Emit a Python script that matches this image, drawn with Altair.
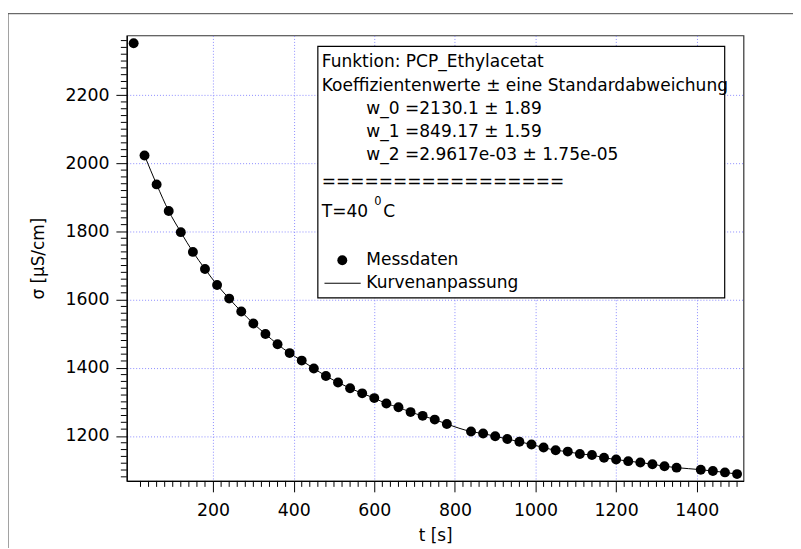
import altair as alt
import pandas as pd

# ---- data ----
t_s = [3, 30, 60, 90, 120, 150, 180, 210, 240, 270, 300, 330, 360, 390, 420, 450,
       480, 510, 540, 570, 600, 630, 660, 690, 720, 750, 780, 840, 870, 900, 930,
       960, 990, 1020, 1050, 1080, 1110, 1140, 1170, 1200, 1230, 1260, 1290, 1320,
       1350, 1410, 1440, 1470, 1500]
sigma = [2352, 2023, 1938, 1860, 1798, 1740, 1690, 1643, 1603, 1565, 1530, 1499,
         1469, 1443, 1421, 1398, 1376, 1357, 1340, 1325, 1311, 1295, 1284, 1270,
         1259, 1248, 1235, 1213, 1207, 1199, 1191, 1183, 1175, 1166, 1158, 1154,
         1147, 1144, 1136, 1131, 1126, 1122, 1117, 1111, 1107, 1101, 1097, 1093, 1088]

x_major = [200, 400, 600, 800, 1000, 1200, 1400]
y_major = [1200, 1400, 1600, 1800, 2000, 2200]
x_minor = [v for v in range(20, 1501, 20) if v % 200 != 0]
y_minor = [v for v in range(1080, 2375, 20) if v % 200 != 0]

box_lines = [
    "Funktion: PCP_Ethylacetat",
    "Koeffizientenwerte ± eine Standardabweichung",
    "w_0 =2130.1 ± 1.89",
    "w_1 =849.17 ± 1.59",
    "w_2 =2.9617e-03 ± 1.75e-05",
    "=================",
]
legend_labels = ["Messdaten", "Kurvenanpassung"]

df = pd.DataFrame({"t": t_s, "sigma": sigma})
df_fit = df.iloc[1:]
one = pd.DataFrame({"k": [0]})
dfx_minor = pd.DataFrame({"t": x_minor})
dfy_minor = pd.DataFrame({"sigma": y_minor})

FONT = "DejaVu Sans"
TXT = 17.2
W, H = 623, 450

xscale = alt.Scale(domain=[-14, 1516], nice=False, zero=False)
yscale = alt.Scale(domain=[1068, 2375], nice=False, zero=False)

xaxis = alt.Axis(
    values=x_major, tickCount=100, title="t [s]", grid=True,
    labelOverlap=False, labelFlush=False, tickSize=11,
    labelPadding=10, titlePadding=9, format="d",
)
yaxis = alt.Axis(
    values=y_major, tickCount=100, title="σ [µS/cm]", grid=True,
    labelOverlap=False, labelFlush=False, tickSize=11,
    labelPadding=7, titlePadding=18, format="d",
)
X = alt.X("t:Q", scale=xscale, axis=xaxis)
Y = alt.Y("sigma:Q", scale=yscale, axis=yaxis)

points = alt.Chart(df).mark_circle(size=100, color="black", opacity=1).encode(x=X, y=Y)
fit = alt.Chart(df_fit).mark_line(color="black", strokeWidth=1, interpolate="monotone").encode(
    x=X, y=Y)
# minor ticks, placed through the scales
xminor = alt.Chart(dfx_minor).mark_rule(color="black", strokeWidth=1, clip=False).encode(
    x=X, y=alt.value(H), y2=alt.value(H + 6))
yminor = alt.Chart(dfy_minor).mark_rule(color="black", strokeWidth=1, clip=False).encode(
    y=Y, x=alt.value(0), x2=alt.value(-6))

# annotation box (pixel positions relative to plot area)
box = alt.Chart(one).mark_rect(fill="white", stroke="black", strokeWidth=1.2).encode(
    x=alt.value(193), x2=alt.value(604), y=alt.value(11), y2=alt.value(265)
)


def label(txt, px, py, size=TXT):
    return alt.Chart(one).mark_text(align="left", baseline="middle", font=FONT,
                                    fontSize=size, color="black").encode(
        x=alt.value(px), y=alt.value(py), text=alt.value(txt))


layers = [points, fit, xminor, yminor, box]
line_pos = [(197, 27), (197, 51), (242, 74.5), (242, 97.5), (242, 121), (197, 148.5)]
for txt, (px, py) in zip(box_lines, line_pos):
    layers.append(label(txt, px, py))
# T=40 °C with superscript
layers.append(label("T=40", 197, 178.7))
layers.append(label("0", 250, 168.7, 11.5))
layers.append(label("C", 259, 178.7))
# legend entries
layers.append(alt.Chart(one).mark_point(shape="circle", filled=True, size=100, color="black",
                                        opacity=1).encode(
    x=alt.value(217.7), y=alt.value(227)))
layers.append(alt.Chart(one).mark_rule(color="black", strokeWidth=1).encode(
    x=alt.value(199.7), x2=alt.value(236.3), y=alt.value(250.3)))
for txt, py in zip(legend_labels, [227, 250.3]):
    layers.append(label(txt, 242, py))
# outer frame (top and left edges)
layers.append(alt.Chart(one).mark_rule(color="#444444", strokeWidth=1, clip=False).encode(
    x=alt.value(-120), x2=alt.value(700), y=alt.value(-22)))
layers.append(alt.Chart(one).mark_rule(color="#444444", strokeWidth=1, clip=False).encode(
    x=alt.value(-120), y=alt.value(-22), y2=alt.value(540)))

chart = alt.layer(*layers).properties(
    width=W, height=H,
    autosize=alt.AutoSizeParams(type="none"),
    padding={"left": 120, "top": 25, "right": 50, "bottom": 65},
).configure_view(
    stroke="#333333", strokeWidth=1.2
).configure_axis(
    domainColor="black", domainWidth=1.2, tickColor="black", tickWidth=1,
    labelColor="black", titleColor="black",
    labelFont=FONT, titleFont=FONT, labelFontSize=17.5, titleFontSize=17,
    labelFontWeight="normal", titleFontWeight="normal",
    gridColor="#8c8cff", gridDash=[1, 2], gridWidth=1,
)

chart.save("out.html", embed_options={"renderer": "svg", "actions": False})
